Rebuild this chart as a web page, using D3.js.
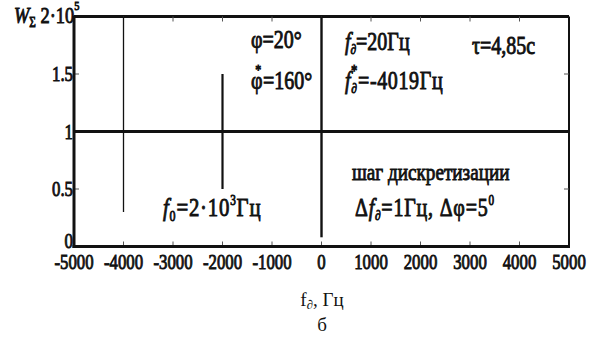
<!DOCTYPE html>
<html>
<head>
<meta charset="utf-8">
<script src="https://cdn.jsdelivr.net/npm/d3@7"></script>
<style>
  html, body { margin: 0; padding: 0; background: #fff; }
  svg { display: block; }
</style>
</head>
<body>
<svg id="chart" width="592" height="342"></svg>
<script>
// Spectrum of the summed signal W_Σ versus Doppler frequency
const freqTicks = [-5000, -4000, -3000, -2000, -1000, 0, 1000, 2000, 3000, 4000, 5000];
const wTicks = [0, 0.5, 1, 1.5];
const wTickLabels = ["0", "0.5", "1", "1.5"];

// spectral lines: frequency, lower and upper level (units of 2·10^5)
const lineFreq = [-4000, -2000, 0];
const lineLow  = [0.3, 0.5, 0.08];
const lineHigh = [2, 1.5, 2];
// constant background level
const baseLevel = 1;

const serif = "'Liberation Serif', 'Times New Roman', Times, serif";
const svg = d3.select("#chart").attr("font-family", serif);
const x = d3.scaleLinear().domain([-5000, 5000]).range([74, 569]);
const y = d3.scaleLinear().domain([0, 2]).range([246.5, 16.5]);

const cx = 0.8; // condensed heavy typeface

function label(g, px, py, size, anchor) {
  return g.append("text")
    .attr("transform", `translate(${px},${py}) scale(${cx},1)`)
    .attr("font-family", serif)
    .attr("font-size", size)
    .attr("fill", "#111")
    .attr("stroke", "#111")
    .attr("stroke-width", 0.9)
    .attr("text-anchor", anchor || "start");
}

// frame
const frame = svg.append("g");
frame.append("line").attr("x1", x(-5000)).attr("x2", x(5000)).attr("y1", y(2)).attr("y2", y(2))
  .attr("stroke", "#111").attr("stroke-width", 3);
frame.append("line").attr("x1", x(5000)).attr("x2", x(5000)).attr("y1", y(2)).attr("y2", y(0))
  .attr("stroke", "#111").attr("stroke-width", 2);

// inward ticks
const tk = svg.append("g").attr("stroke", "#555").attr("stroke-width", 1);
freqTicks.slice(1, -1).forEach(f => {
  tk.append("line").attr("x1", x(f)).attr("x2", x(f)).attr("y1", y(0)).attr("y2", y(0) - 5);
  tk.append("line").attr("x1", x(f)).attr("x2", x(f)).attr("y1", y(2)).attr("y2", y(2) + 5);
});
wTicks.slice(1).forEach(w => {
  tk.append("line").attr("x1", x(-5000)).attr("x2", x(-5000) + 5).attr("y1", y(w)).attr("y2", y(w));
  tk.append("line").attr("x1", x(5000)).attr("x2", x(5000) - 5).attr("y1", y(w)).attr("y2", y(w));
});

// baseline level
svg.append("line").attr("x1", x(-5000)).attr("x2", x(5000))
  .attr("y1", y(baseLevel)).attr("y2", y(baseLevel))
  .attr("stroke", "#111").attr("stroke-width", 3);

// spectral lines
const widths = [1.3, 2.2, 2.4];
svg.append("g").selectAll("line").data(lineFreq).join("line")
  .attr("x1", d => x(d)).attr("x2", d => x(d))
  .attr("y1", (d, i) => y(lineHigh[i])).attr("y2", (d, i) => y(lineLow[i]))
  .attr("stroke", "#111").attr("stroke-width", (d, i) => widths[i]);

// axes (left and bottom, thick)
svg.append("line").attr("x1", x(-5000)).attr("x2", x(-5000)).attr("y1", y(2) - 1).attr("y2", y(0) + 1.5)
  .attr("stroke", "#111").attr("stroke-width", 3);
svg.append("line").attr("x1", x(-5000) - 1.5).attr("x2", x(5000) + 1).attr("y1", y(0)).attr("y2", y(0))
  .attr("stroke", "#111").attr("stroke-width", 3);

// tick labels
const tl = svg.append("g");
freqTicks.forEach(f => label(tl, x(f), 269, 21, "middle").text(f));
wTicks.forEach((w, i) => label(tl, x(-5000) - 1, y(w) + (w === 0 ? 1 : 7), 21, "end").text(wTickLabels[i]));

// axis title W_Σ 2·10^5
const wt = label(svg, 14, 23, 23, "start");
wt.append("tspan").attr("font-style", "italic").text("W");
wt.append("tspan").attr("font-size", 14).attr("dy", 4).text("Σ");
wt.append("tspan").attr("dy", -4).text(" 2·10");
wt.append("tspan").attr("font-size", 13).attr("dy", -13).text("5");

// annotations
label(svg, 251, 48, 25).text("φ=20°");
const p2 = label(svg, 251, 89, 25);
p2.append("tspan").text("φ");
p2.append("tspan").attr("font-size", 15).attr("dx", -9).attr("dy", -14).text("*");
p2.append("tspan").attr("dx", 2).attr("dy", 14).text("=160°");

const f1 = label(svg, 345, 50, 25);
f1.append("tspan").attr("font-style", "italic").text("f");
f1.append("tspan").attr("font-style", "italic").attr("font-size", 14).attr("dy", 4).text("∂");
f1.append("tspan").attr("dy", -4).text("=20Гц");

const f2 = label(svg, 345, 89, 25).attr("letter-spacing", 0.8);
f2.append("tspan").attr("font-style", "italic").text("f");
f2.append("tspan").attr("font-style", "italic").attr("font-size", 14).attr("dy", 4).text("∂");
f2.append("tspan").attr("font-size", 16).attr("dx", -8).attr("dy", -17).text("*");
f2.append("tspan").attr("dy", 13).text("=-4019Гц");

label(svg, 472, 54, 25).text("τ=4,85с");

label(svg, 352, 180, 24).text("шаг дискретизации");
const d1 = label(svg, 355, 216, 25).attr("letter-spacing", 1);
d1.append("tspan").text("Δ");
d1.append("tspan").attr("font-style", "italic").text("f");
d1.append("tspan").attr("font-style", "italic").attr("font-size", 14).attr("dy", 4).text("∂");
d1.append("tspan").attr("dy", -4).text("=1Гц, Δφ=5");
d1.append("tspan").attr("font-size", 14).attr("dy", -11).text("0");

const f0 = label(svg, 163, 216, 26).attr("letter-spacing", 1);
f0.append("tspan").attr("font-style", "italic").text("f");
f0.append("tspan").attr("font-size", 15).attr("dy", 5).text("0");
f0.append("tspan").attr("dy", -5).text("=2·10");
f0.append("tspan").attr("font-size", 14).attr("dy", -11).text("3");
f0.append("tspan").attr("dy", 11).text("Гц");

// bottom captions
const xl = svg.append("text").attr("x", 322).attr("y", 306).attr("text-anchor", "middle")
  .attr("font-family", serif).attr("font-size", 19).attr("fill", "#111");
xl.append("tspan").text("f");
xl.append("tspan").attr("font-style", "italic").attr("font-size", 13).attr("dy", 3).text("∂");
xl.append("tspan").attr("dy", -3).text(", Гц");
svg.append("text").attr("x", 322).attr("y", 331).attr("text-anchor", "middle")
  .attr("font-family", serif).attr("font-size", 19).attr("fill", "#111").text("б");
</script>
</body>
</html>
